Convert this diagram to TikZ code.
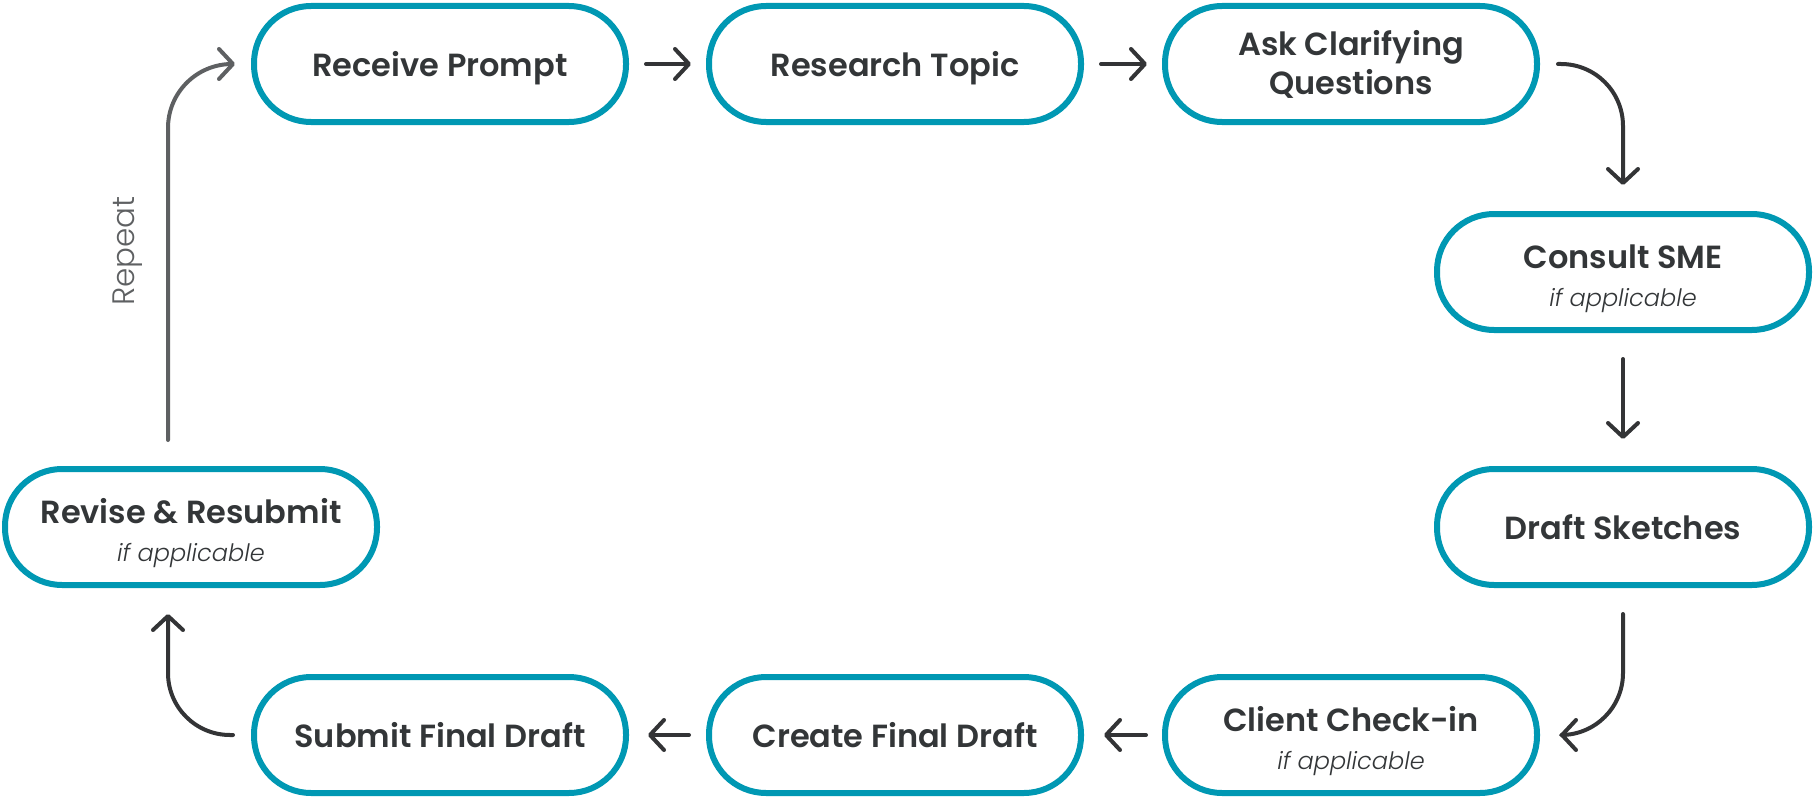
\documentclass[tikz,border=0pt]{standalone}
\usepackage{fontspec}
\setmainfont{Poppins}[BoldFont={Poppins SemiBold},ItalicFont={Poppins Light Italic}]
\newfontfamily\poplight{Poppins Light}
\usetikzlibrary{arrows.meta}
\definecolor{teal}{HTML}{0098B3}
\definecolor{txt}{HTML}{333638}
\definecolor{arrowc}{HTML}{333436}
\definecolor{repc}{HTML}{5E6062}
\tikzset{
  stage/.style={draw=teal, line width=6pt, fill=white, rounded corners=57pt,
    minimum width=372pt, minimum height=116pt, inner sep=0pt, align=center,
    text=txt, font=\fontsize{32}{39}\selectfont\bfseries},
  nodepth/.style={text depth=0pt},
  arr/.style={draw=arrowc, line width=4pt, line cap=round, line join=round,
    -{Straight Barb[length=14pt,width=30pt,line cap=round,line join=round]}},
  reparr/.style={arr, draw=repc},
}
\newcommand{\ttl}[1]{\rule{0pt}{38pt}#1}
\newcommand{\sub}[1]{\\[-1pt]{\fontsize{24}{28}\selectfont\mdseries\itshape #1}}
\begin{document}
\begin{tikzpicture}[x=1pt,y=-1pt]
\useasboundingbox (0,0) rectangle (1816,800);
\node[stage, nodepth] (rp) at (440,64) {Receive Prompt};
\node[stage, nodepth] (rt) at (895,64) {Research Topic};
\node[stage] (ac) at (1351,64) {Ask Clarifying\\Questions};
\node[stage] (cs) at (1623,272) {\ttl{Consult SME}\sub{if applicable}};
\node[stage] (ds) at (1623,527) {Draft Sketches};
\node[stage] (cc) at (1351,735) {\ttl{Client Check-in}\sub{if applicable}};
\node[stage] (cf) at (895,735) {Create Final Draft};
\node[stage] (sf) at (440,735) {Submit Final Draft};
\node[stage] (rr) at (191,527) {\ttl{Revise \& Resubmit}\sub{if applicable}};
\node[rotate=90, text=repc, font=\poplight\fontsize{31}{36}\selectfont] (rep) at (128,251) {Repeat};

\draw[arr] ([xshift=17pt]rp.east) -- ([xshift=-15pt]rt.west);
\draw[arr] ([xshift=17pt]rt.east) -- ([xshift=-15pt]ac.west);
\draw[arr, rounded corners=62pt] ([xshift=18pt]ac.east) -| ([yshift=26pt]cs.north);
\draw[arr] ([yshift=-26pt]cs.south) -- ([yshift=27pt]ds.north);
\draw[arr, rounded corners=62pt] ([yshift=-26pt]ds.south) |- ([xshift=20pt]cc.east);
\draw[arr] ([xshift=-16pt]cc.west) -- ([xshift=20pt]cf.east);
\draw[arr] ([xshift=-17pt]cf.west) -- ([xshift=19pt]sf.east);
\draw[arr, rounded corners=62pt] ([xshift=-18pt]sf.west) -| ([xshift=-23pt,yshift=-26pt]rr.south);
\draw[reparr, rounded corners=64pt] ([xshift=-23pt,yshift=26pt]rr.north) |- ([xshift=-16pt]rp.west);
\end{tikzpicture}
\end{document}
